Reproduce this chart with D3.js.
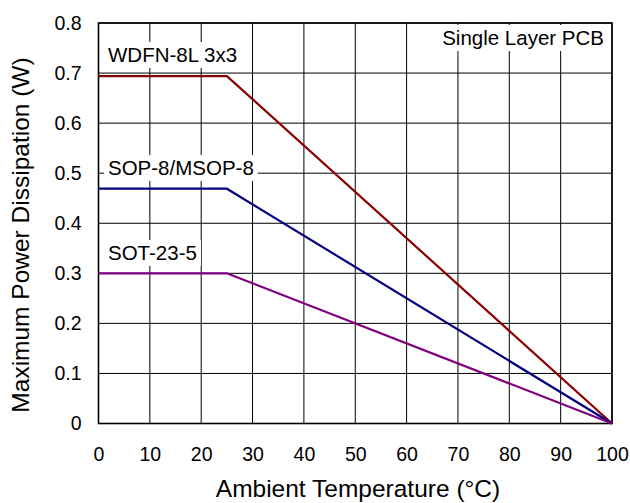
<!DOCTYPE html>
<html>
<head>
<meta charset="utf-8">
<script src="https://cdn.jsdelivr.net/npm/d3@7"></script>
<style>
    body { margin: 0; background: #fff; }
    text { font-family: "Liberation Sans", Arial, sans-serif; fill: #000; }
</style>
</head>
<body>
<svg id="chart" width="630" height="503"></svg>
<script>

// --------------------------------------
// Data
// --------------------------------------

var temperature = [0, 25, 100];
var wdfn = [0.694, 0.694, 0];
var sop = [0.469, 0.469, 0];
var sot = [0.3, 0.3, 0];

var seriesNames = ["WDFN-8L 3x3", "SOP-8/MSOP-8", "SOT-23-5"];
var seriesColors = ["#8b0000", "#000080", "#800080"];

var xTicks = [0, 10, 20, 30, 40, 50, 60, 70, 80, 90, 100];
var yTicks = [0, 0.1, 0.2, 0.3, 0.4, 0.5, 0.6, 0.7, 0.8];
var yTickLabels = ["0", "0.1", "0.2", "0.3", "0.4", "0.5", "0.6", "0.7", "0.8"];

// --------------------------------------
// Chart
// --------------------------------------

(function(){

    // plot box (window.top is read-only, so keep these local)
    var pLeft = 98.5, pRight = 612, pTop = 23, pBottom = 423.5;

    var svg = d3.select("#chart");

    var x = d3.scaleLinear().domain([0, 100]).range([pLeft, pRight]);
    var y = d3.scaleLinear().domain([0, 0.8]).range([pBottom, pTop]);

    // grid lines
    var grid = svg.append("g");

    grid.selectAll(".vgrid")
        .data(xTicks)
        .enter().append("line")
        .attr("x1", function(d){ return x(d); })
        .attr("x2", function(d){ return x(d); })
        .attr("y1", pTop)
        .attr("y2", pBottom)
        .attr("stroke", "#000")
        .attr("stroke-width", 1);

    grid.selectAll(".hgrid")
        .data(yTicks)
        .enter().append("line")
        .attr("x1", pLeft)
        .attr("x2", pRight)
        .attr("y1", function(d){ return y(d); })
        .attr("y2", function(d){ return y(d); })
        .attr("stroke", "#000")
        .attr("stroke-width", 1);

    // tick labels via axes, lines removed
    var xAxis = svg.append("g")
        .attr("transform", "translate(0," + pBottom + ")")
        .call(d3.axisBottom(x).tickValues(xTicks).tickSize(0).tickPadding(24));

    var yAxis = svg.append("g")
        .attr("transform", "translate(" + pLeft + ",0)")
        .call(d3.axisLeft(y).tickValues(yTicks).tickSize(0).tickPadding(17)
            .tickFormat(function(d, i){ return yTickLabels[i]; }));

    [xAxis, yAxis].forEach(function(a){
        a.select(".domain").remove();
        a.selectAll("text")
            .attr("font-family", null)
            .style("font-family", "'Liberation Sans', Arial, sans-serif")
            .style("font-size", "19.5px")
            .attr("fill", "#000");
    });

    // annotation labels with white boxes behind them
    function label(txt, tx, ty, anchor){
        var g = svg.append("g");
        var t = g.append("text")
            .attr("x", tx)
            .attr("y", ty)
            .attr("text-anchor", anchor)
            .style("font-size", "20.5px")
            .text(txt);
        var b = t.node().getBBox();
        g.insert("rect", "text")
            .attr("x", b.x - 4)
            .attr("y", b.y - 1)
            .attr("width", b.width + 8)
            .attr("height", b.height + 3)
            .attr("fill", "#fff");
    }

    label(seriesNames[0], 108, 62, "start");
    label(seriesNames[1], 108, 175, "start");
    label(seriesNames[2], 108, 260, "start");
    label("Single Layer PCB", 604, 45, "end");

    // plot frame
    svg.append("rect")
        .attr("x", pLeft)
        .attr("y", pTop)
        .attr("width", pRight - pLeft)
        .attr("height", pBottom - pTop)
        .attr("fill", "none")
        .attr("stroke", "#000")
        .attr("stroke-width", 1.6);

    // derating curves
    var line = d3.line()
        .x(function(d){ return x(d[0]); })
        .y(function(d){ return y(d[1]); });

    [wdfn, sop, sot].forEach(function(vals, i){
        svg.append("path")
            .datum(d3.zip(temperature, vals))
            .attr("d", line)
            .attr("fill", "none")
            .attr("stroke", seriesColors[i])
            .attr("stroke-width", 2.2);
    });

    // axis titles
    svg.append("text")
        .attr("x", 358)
        .attr("y", 497)
        .attr("text-anchor", "middle")
        .style("font-size", "24.5px")
        .text("Ambient Temperature (\u00b0C)");

    svg.append("text")
        .attr("transform", "translate(29,235) rotate(-90)")
        .attr("text-anchor", "middle")
        .style("font-size", "24.5px")
        .text("Maximum Power Dissipation (W)");

})();

</script>
</body>
</html>
